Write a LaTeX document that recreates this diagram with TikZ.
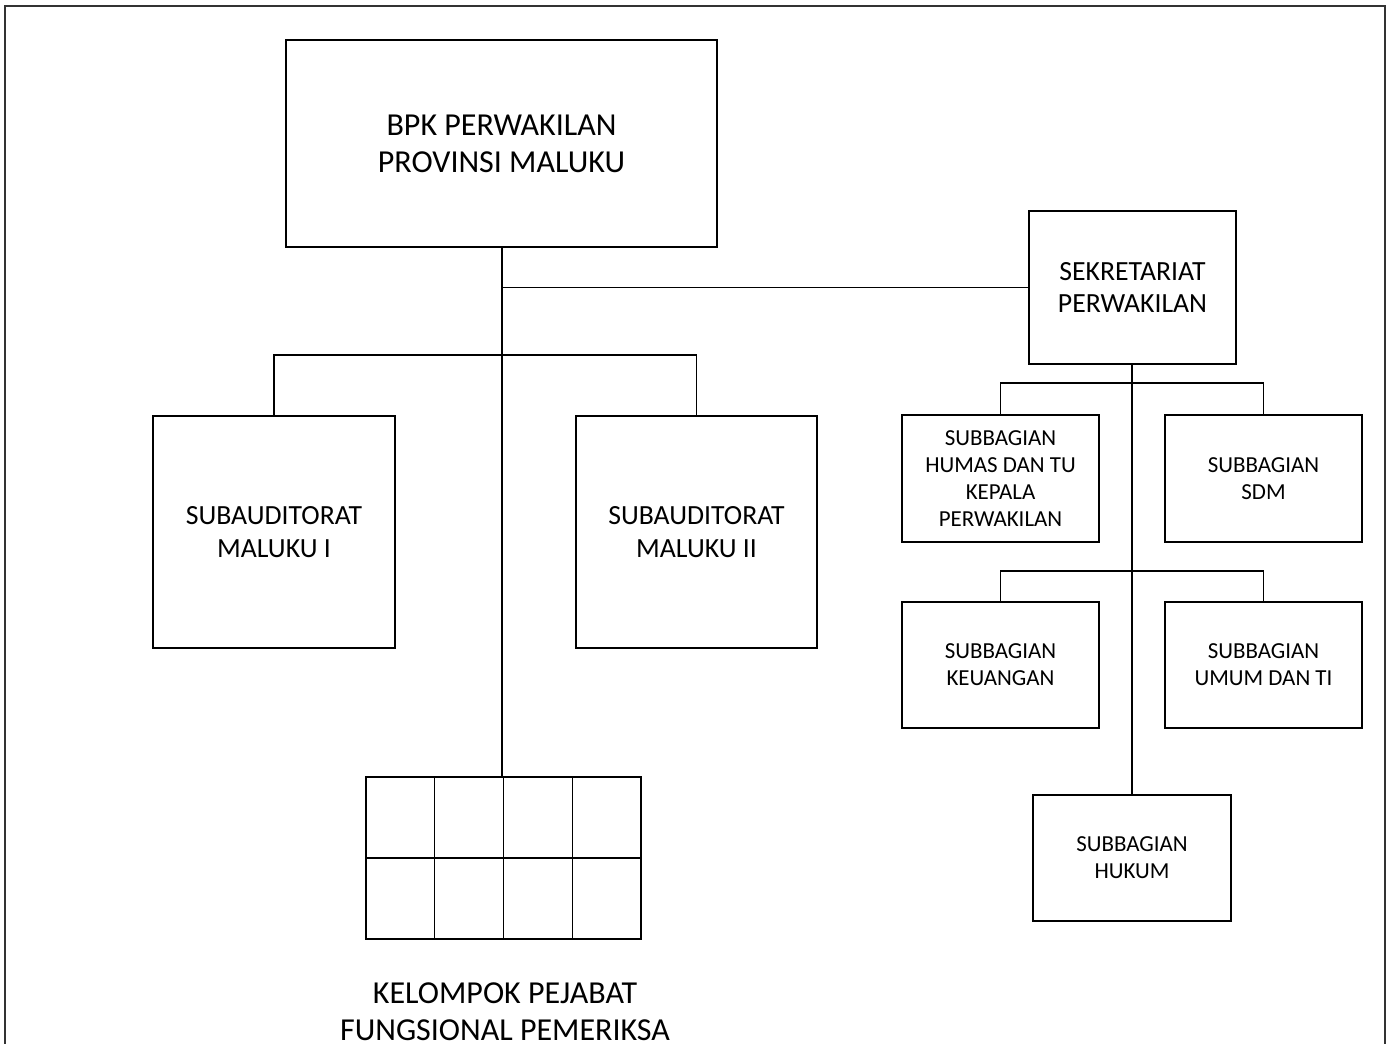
\documentclass[tikz,border=0pt]{standalone}
\usepackage{fontspec}
\setmainfont{Carlito}
\usetikzlibrary{calc}

\tikzset{
  unit/.style={draw, line width=1pt, align=center, inner sep=0pt},
  size/.style 2 args={minimum width={#1*0.75pt}, minimum height={#2*0.75pt}},
  bigtext/.style={font=\fontsize{24}{27.75}\selectfont},
  midtext/.style={font=\fontsize{20.8}{24.4}\selectfont},
  smalltext/.style={font=\fontsize{17.2}{20.25}\selectfont},
  link/.style={line width=1pt},
  mainlink/.style={line width=2.2pt}
}

\begin{document}
\begin{tikzpicture}[x=0.75pt, y=-0.75pt]
  \useasboundingbox (0,0) rectangle (1391,1044);
  % frame
  \draw [line width=1.2pt, black!80](5,1044) |- (1385,6) -- (1385,1044);

  \node [unit, bigtext, size={431}{207}] (bpk) at (501.5,143.5) {BPK PERWAKILAN\\PROVINSI MALUKU};
  \node [unit, midtext, size={207}{153}] (sekretariat) at (1132.5,287.5) {SEKRETARIAT\\PERWAKILAN};

  \node [unit, midtext, size={242}{232}] (subI) at (274,532) {SUBAUDITORAT\\MALUKU I};
  \node [unit, midtext, size={241}{232}] (subII) at (696.5,532) {SUBAUDITORAT\\MALUKU II};

  \node [unit, smalltext, size={197}{127}] (humas) at (1000.5,478.5) {SUBBAGIAN\\HUMAS DAN TU\\KEPALA\\PERWAKILAN};
  \node [unit, smalltext, size={197}{127}] (sdm) at (1263.5,478.5) {SUBBAGIAN\\SDM};
  \node [unit, smalltext, size={197}{126}] (keuangan) at (1000.5,665) {SUBBAGIAN\\KEUANGAN};
  \node [unit, smalltext, size={197}{126}] (umum) at (1263.5,665) {SUBBAGIAN\\UMUM DAN TI};
  \node [unit, smalltext, size={198}{126}] (hukum) at (1132,858) {SUBBAGIAN\\HUKUM};

  % kelompok pejabat fungsional
  \node [unit, size={275}{162}] (kelompok) at (503.5,858) {};
  \draw [link](kelompok.west) -- (kelompok.east);
  \foreach \i in {1,2,3}
    \draw [link]($(kelompok.north west)!\i/4!(kelompok.north east)$) -- ($(kelompok.south west)!\i/4!(kelompok.south east)$);
  \node [bigtext, align=center, inner sep=0pt] (kelompokteks) at (505,1012) {KELOMPOK PEJABAT\\FUNGSIONAL PEMERIKSA};

  \coordinate (j1) at (502,355);
  \coordinate (j2) at (1132,383);
  \coordinate (j3) at (1132,571);

  \draw [mainlink](bpk.south -| j1) -- (j1);
  \draw [link](j1) -- (j1 |- kelompok.north);
  \draw [link](j1 |- sekretariat.west) -- (sekretariat.west);
  \draw [link](subI.north) |- (j1) -| (subII.north);

  \draw [link](sekretariat.south -| hukum.north) -- (hukum.north);
  \draw [link](humas.north) |- (j2) -| (sdm.north);
  \draw [link](keuangan.north) |- (j3) -| (umum.north);
\end{tikzpicture}
\end{document}
